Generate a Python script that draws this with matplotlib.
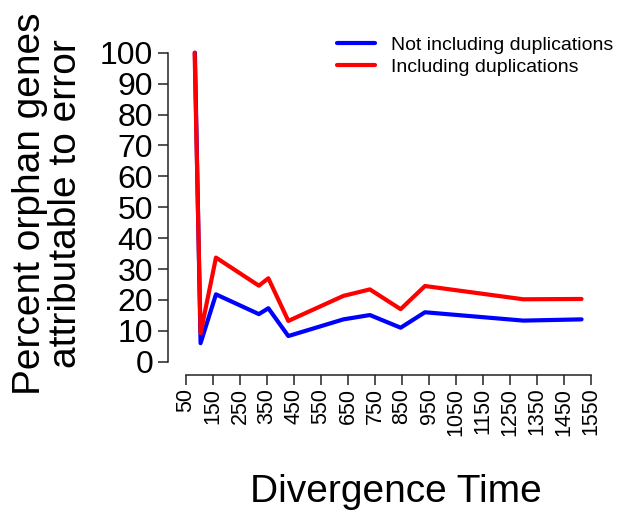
import matplotlib
matplotlib.use("Agg")
import matplotlib.pyplot as plt

plt.rcParams['font.family'] = ['Liberation Sans', 'DejaVu Sans']

# Data
time_not_dup = [83, 104, 161, 320, 355, 429, 633, 731, 845, 935, 1299, 1515]
pct_not_dup = [100, 6.0, 21.8, 15.4, 17.3, 8.3, 13.7, 15.1, 11.0, 16.0, 13.3, 13.7]
time_dup = [82, 104, 161, 320, 355, 429, 633, 731, 845, 935, 1299, 1515]
pct_dup = [100, 9.2, 33.7, 24.6, 27.0, 13.2, 21.3, 23.4, 17.0, 24.5, 20.2, 20.3]
series_labels = ["Not including duplications", "Including duplications"]
x_ticks = list(range(50, 1551, 100))
y_ticks = list(range(0, 101, 10))

W, H = 619, 512
fig = plt.figure(figsize=(W / 100, H / 100), dpi=100)
left, right, bottom, top = 178, 600, 368, 45
ax = fig.add_axes([left / W, (H - bottom) / H, (right - left) / W, (bottom - top) / H])

ax.plot(time_not_dup, pct_not_dup, color='#0000FF', lw=3.0, solid_joinstyle='round',
        solid_capstyle='round', label=series_labels[0])
ax.plot(time_dup, pct_dup, color='#FF0000', lw=3.0, solid_joinstyle='round',
        solid_capstyle='round', label=series_labels[1])

ax.set_xlim(20.4, 1583.3)
ax.set_ylim(-2.04, 102.5)

for s in ['top', 'right']:
    ax.spines[s].set_visible(False)
ax.spines['left'].set_position(('outward', 7.2))
ax.spines['bottom'].set_position(('outward', 5.0))
ax.spines['left'].set_bounds(0, 100)
ax.spines['bottom'].set_bounds(50, 1550)
for s in ['left', 'bottom']:
    ax.spines[s].set_linewidth(1.1)
    ax.spines[s].set_color('#222222')

ax.set_xticks(x_ticks)
ax.set_xticklabels([str(v) for v in x_ticks], rotation=90, fontsize=15.5)
ax.set_yticks(y_ticks)
ax.set_yticklabels([str(v) for v in y_ticks], fontsize=23)
ax.tick_params(axis='both', length=7.2, width=1.1, color='#222222')
ax.tick_params(axis='y', pad=3.5)
ax.tick_params(axis='x', pad=2)

fig.text(48 / W, 1 - 204 / H, "Percent orphan genes\nattributable to error",
         rotation=90, ha='center', va='center', fontsize=28, linespacing=0.98)
fig.text(396 / W, (H - 502) / H, "Divergence Time", ha='center', va='baseline', fontsize=28)

leg = ax.legend(loc='upper left', bbox_to_anchor=(337 / W, 1 - 36 / H),
                bbox_transform=fig.transFigure, frameon=False, fontsize=14,
                handlelength=1.95, handletextpad=0.85, labelspacing=0.22,
                borderpad=0, borderaxespad=0)

fig.savefig("out.png", dpi=100)
